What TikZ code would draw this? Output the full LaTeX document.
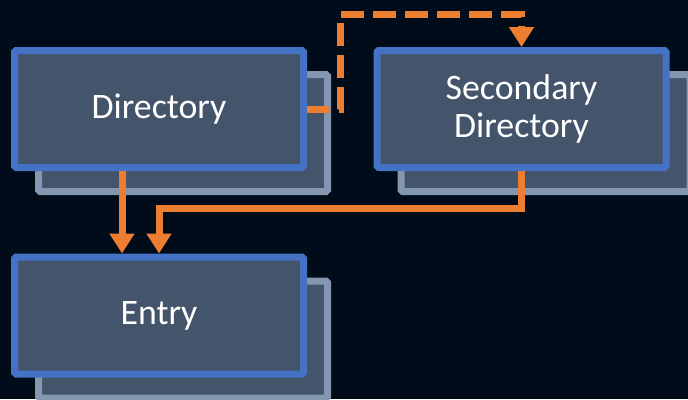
\documentclass[tikz,border=0pt]{standalone}
\usepackage{fontspec}
\setmainfont{Carlito}
\usetikzlibrary{arrows.meta,shadows}

\definecolor{bgnavy}{HTML}{010C1B}
\definecolor{boxfill}{HTML}{44546A}
\definecolor{boxline}{HTML}{4472C4}
\definecolor{backline}{HTML}{8497B0}
\definecolor{flowcol}{HTML}{ED7D31}

\tikzset{
  box/.style={draw=boxline, fill=boxfill, line width=7pt, rounded corners=1.5pt,
    minimum width=289pt, minimum height=117pt, align=center, text=white,
    font=\fontsize{35.8}{37.5}\selectfont,
    copy shadow={shadow xshift=24pt, shadow yshift=-24pt, draw=backline, fill=boxfill}},
  flow/.style={draw=flowcol, line width=7pt, -{Triangle[width=24pt,length=20pt]}},
  dashflow/.style={flow, dash pattern=on 23pt off 9pt}
}

\begin{document}
\begin{tikzpicture}[x=1pt,y=-1pt]
    \def \drop {37} % how far the flow from the secondary box drops
    \fill[bgnavy] (0,0) rectangle (688,399);
    \useasboundingbox (0,0) rectangle (688,399);
    \clip (0,0) rectangle (688,399);
    \foreach \nm/\x/\y/\txt in {dir/159/109/Directory,
        sec/521.5/109/{Secondary\\Directory}, entry/159/315.5/Entry}
    {
      \node[box] (\nm) at (\x,\y) {\txt};
    }
    \coordinate (bend) at (340,14.5);
    \draw[flow] ([xshift=-37pt]dir.south) -- ([xshift=-37pt]entry.north);
    \draw[flow] (sec.south) -- ++(0,\drop) -| (entry.north);
    \draw[dashflow] (dir.east) -| (bend) -| (sec.north);
\end{tikzpicture}
\end{document}
